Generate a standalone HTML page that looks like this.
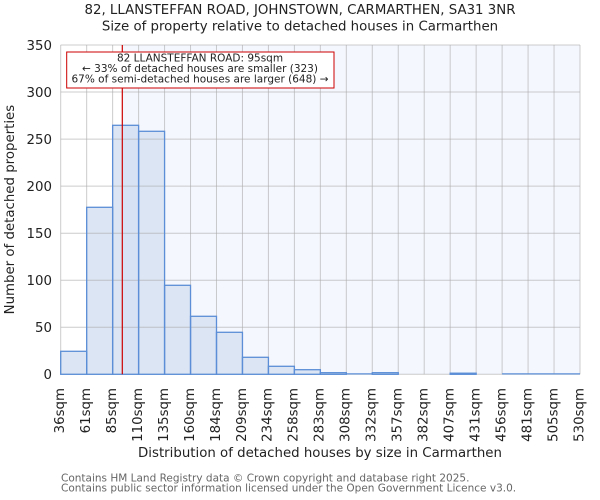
<!DOCTYPE html>
<html><head><meta charset="utf-8"><style>
html,body{margin:0;padding:0;background:#fff;}
svg{display:block;}
text{font-family:"DejaVu Sans","Liberation Sans",sans-serif;fill:#222;}
</style></head><body>
<svg width="600" height="500" viewBox="0 0 600 500" xmlns="http://www.w3.org/2000/svg">
<rect x="0" y="0" width="600" height="500" fill="#fff"/>
<!-- shaded span -->
<rect x="122.3" y="45" width="457.7" height="329.3" fill="rgb(200,215,250)" fill-opacity="0.2"/>
<!-- bars fill -->
<g fill="#dbe5f4">
<rect x="60.70" y="351.3" width="25.97" height="23.0"/>
<rect x="86.67" y="207.3" width="25.97" height="167.0"/>
<rect x="112.63" y="125.3" width="25.97" height="249.0"/>
<rect x="138.60" y="131.3" width="25.97" height="243.0"/>
<rect x="164.56" y="285.3" width="25.97" height="89.0"/>
<rect x="190.53" y="316.3" width="25.97" height="58.0"/>
<rect x="216.49" y="332.3" width="25.97" height="42.0"/>
<rect x="242.46" y="357.3" width="25.97" height="17.0"/>
<rect x="268.42" y="366.3" width="25.97" height="8.0"/>
<rect x="294.39" y="369.7" width="25.97" height="4.6"/>
<rect x="320.35" y="372.7" width="25.97" height="1.6"/>
<rect x="372.28" y="372.7" width="25.97" height="1.6"/>
<rect x="450.18" y="373.2" width="25.97" height="1.1"/>
</g>
<!-- overlay on bars right of line -->
<rect x="122.3" y="125.3" width="16.3" height="249" fill="rgb(200,215,250)" fill-opacity="0.2"/>
<!-- gridlines -->
<g stroke="rgb(170,170,170)" stroke-opacity="0.6" stroke-width="1">
<line x1="60.7" y1="45" x2="580" y2="45"/>
<line x1="60.7" y1="92" x2="580" y2="92"/>
<line x1="60.7" y1="139.1" x2="580" y2="139.1"/>
<line x1="60.7" y1="186.1" x2="580" y2="186.1"/>
<line x1="60.7" y1="233.2" x2="580" y2="233.2"/>
<line x1="60.7" y1="280.2" x2="580" y2="280.2"/>
<line x1="60.7" y1="327.3" x2="580" y2="327.3"/>
<line x1="60.7" y1="374.3" x2="580" y2="374.3"/>
<line x1="60.70" y1="45" x2="60.70" y2="374.3"/>
<line x1="86.67" y1="45" x2="86.67" y2="374.3"/>
<line x1="112.63" y1="45" x2="112.63" y2="374.3"/>
<line x1="138.60" y1="45" x2="138.60" y2="374.3"/>
<line x1="164.56" y1="45" x2="164.56" y2="374.3"/>
<line x1="190.53" y1="45" x2="190.53" y2="374.3"/>
<line x1="216.49" y1="45" x2="216.49" y2="374.3"/>
<line x1="242.46" y1="45" x2="242.46" y2="374.3"/>
<line x1="268.42" y1="45" x2="268.42" y2="374.3"/>
<line x1="294.39" y1="45" x2="294.39" y2="374.3"/>
<line x1="320.35" y1="45" x2="320.35" y2="374.3"/>
<line x1="346.32" y1="45" x2="346.32" y2="374.3"/>
<line x1="372.28" y1="45" x2="372.28" y2="374.3"/>
<line x1="398.25" y1="45" x2="398.25" y2="374.3"/>
<line x1="424.21" y1="45" x2="424.21" y2="374.3"/>
<line x1="450.18" y1="45" x2="450.18" y2="374.3"/>
<line x1="476.14" y1="45" x2="476.14" y2="374.3"/>
<line x1="502.11" y1="45" x2="502.11" y2="374.3"/>
<line x1="528.07" y1="45" x2="528.07" y2="374.3"/>
<line x1="554.04" y1="45" x2="554.04" y2="374.3"/>
<line x1="580.00" y1="45" x2="580.00" y2="374.3"/>
</g>
<!-- bar edges -->
<g fill="none" stroke="#5b8ed6" stroke-width="1.3">
<rect x="60.70" y="351.3" width="25.97" height="23.0"/>
<rect x="86.67" y="207.3" width="25.97" height="167.0"/>
<rect x="112.63" y="125.3" width="25.97" height="249.0"/>
<rect x="138.60" y="131.3" width="25.97" height="243.0"/>
<rect x="164.56" y="285.3" width="25.97" height="89.0"/>
<rect x="190.53" y="316.3" width="25.97" height="58.0"/>
<rect x="216.49" y="332.3" width="25.97" height="42.0"/>
<rect x="242.46" y="357.3" width="25.97" height="17.0"/>
<rect x="268.42" y="366.3" width="25.97" height="8.0"/>
<rect x="294.39" y="369.7" width="25.97" height="4.6"/>
<rect x="320.35" y="372.7" width="25.97" height="1.6"/>
<line x1="346.32" y1="373.9" x2="372.28" y2="373.9"/>
<rect x="372.28" y="372.7" width="25.97" height="1.6"/>
<rect x="450.18" y="373.2" width="25.97" height="1.1"/>
<line x1="502.11" y1="373.9" x2="580" y2="373.9"/>
</g>
<!-- red line -->
<line x1="122.3" y1="45" x2="122.3" y2="374.3" stroke="#cc0000" stroke-width="1.2"/>
<!-- annotation -->
<rect x="66.7" y="52" width="267.3" height="36" fill="#fff" stroke="#cc0000" stroke-width="1"/>
<g font-size="10.5" text-anchor="middle">
<text x="200" y="61.5">82 LLANSTEFFAN ROAD: 95sqm</text>
<text x="200" y="72">← 33% of detached houses are smaller (323)</text>
<text x="200" y="82.5">67% of semi-detached houses are larger (648) →</text>
</g>
<!-- y ticks -->
<g font-size="13.33" text-anchor="end">
<text x="52" y="49.8">350</text>
<text x="52" y="96.8">300</text>
<text x="52" y="143.9">250</text>
<text x="52" y="190.9">200</text>
<text x="52" y="238">150</text>
<text x="52" y="285">100</text>
<text x="52" y="332.1">50</text>
<text x="52" y="379.1">0</text>
</g>
<!-- x ticks -->
<g font-size="13.33" text-anchor="end">
<text transform="translate(64.0,388) rotate(-90)">36sqm</text>
<text transform="translate(89.97,388) rotate(-90)">61sqm</text>
<text transform="translate(115.93,388) rotate(-90)">85sqm</text>
<text transform="translate(141.9,388) rotate(-90)">110sqm</text>
<text transform="translate(167.86,388) rotate(-90)">135sqm</text>
<text transform="translate(193.83,388) rotate(-90)">160sqm</text>
<text transform="translate(219.79,388) rotate(-90)">184sqm</text>
<text transform="translate(245.76,388) rotate(-90)">209sqm</text>
<text transform="translate(271.72,388) rotate(-90)">234sqm</text>
<text transform="translate(297.69,388) rotate(-90)">258sqm</text>
<text transform="translate(323.65,388) rotate(-90)">283sqm</text>
<text transform="translate(349.62,388) rotate(-90)">308sqm</text>
<text transform="translate(375.58,388) rotate(-90)">332sqm</text>
<text transform="translate(401.55,388) rotate(-90)">357sqm</text>
<text transform="translate(427.51,388) rotate(-90)">382sqm</text>
<text transform="translate(453.48,388) rotate(-90)">407sqm</text>
<text transform="translate(479.44,388) rotate(-90)">431sqm</text>
<text transform="translate(505.41,388) rotate(-90)">456sqm</text>
<text transform="translate(531.37,388) rotate(-90)">481sqm</text>
<text transform="translate(557.34,388) rotate(-90)">505sqm</text>
<text transform="translate(583.3,388) rotate(-90)">530sqm</text>
</g>
<!-- titles -->
<g font-size="13.33" text-anchor="middle">
<text x="300" y="14">82, LLANSTEFFAN ROAD, JOHNSTOWN, CARMARTHEN, SA31 3NR</text>
<text x="300" y="30.5">Size of property relative to detached houses in Carmarthen</text>
<text x="320" y="457">Distribution of detached houses by size in Carmarthen</text>
<text transform="translate(14,209.6) rotate(-90)">Number of detached properties</text>
</g>
<!-- footer -->
<g font-size="10.5" style="fill:#666">
<text x="61" y="481.5" style="fill:#666">Contains HM Land Registry data © Crown copyright and database right 2025.</text>
<text x="61" y="491.5" style="fill:#666">Contains public sector information licensed under the Open Government Licence v3.0.</text>
</g>
</svg>
</body></html>
